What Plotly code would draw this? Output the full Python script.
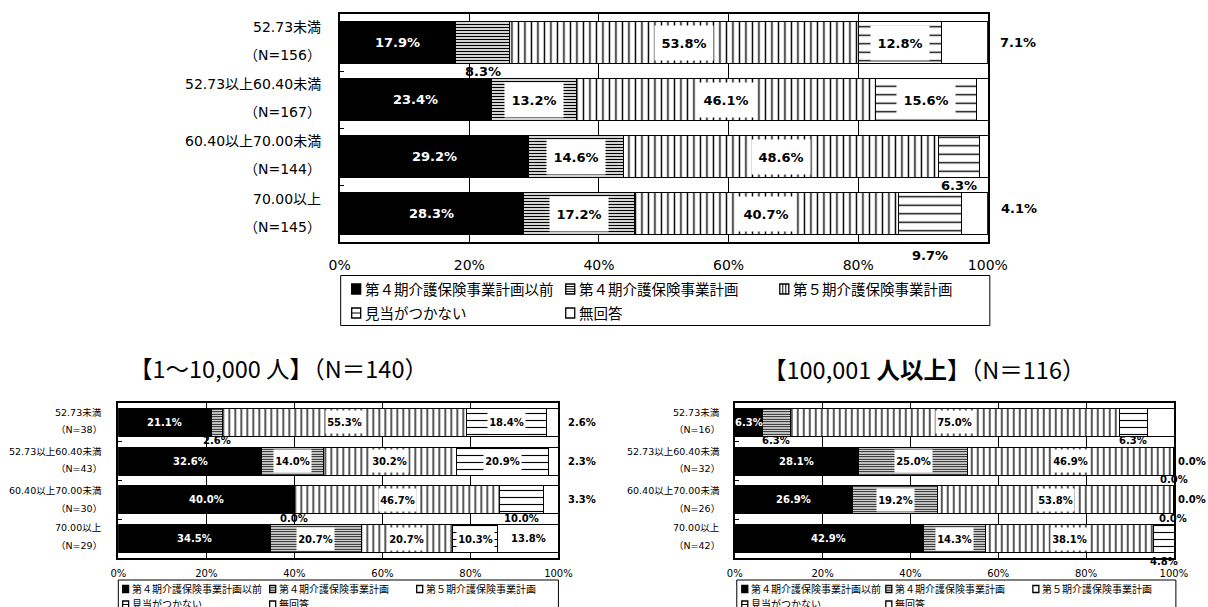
import plotly.graph_objects as go

W, H = 1208, 607

# ---------------------------------------------------------------- data
SERIES = ["第４期介護保険事業計画以前", "第４期介護保険事業計画",
          "第５期介護保険事業計画", "見当がつかない", "無回答"]
ROWS = ["52.73未満", "52.73以上60.40未満", "60.40以上70.00未満", "70.00以上"]
TICK_VALUES = [0, 20, 40, 60, 80, 100]
TICK_TEXT = ["0%", "20%", "40%", "60%", "80%", "100%"]

# 全体
ALL_N = [156, 167, 144, 145]
ALL_VALUES = [
    [17.9, 23.4, 29.2, 28.3],
    [8.3, 13.2, 14.6, 17.2],
    [53.8, 46.1, 48.6, 40.7],
    [12.8, 15.6, 6.3, 9.7],
    [7.1, 1.8, 1.4, 4.1],
]

# 1～10,000人
SMALL_TITLE = "【1～10,000 人】（N＝140）"
SMALL_N = [38, 43, 30, 29]
SMALL_VALUES = [
    [21.1, 32.6, 40.0, 34.5],
    [2.6, 14.0, 0.0, 20.7],
    [55.3, 30.2, 46.7, 20.7],
    [18.4, 20.9, 10.0, 10.3],
    [2.6, 2.3, 3.3, 13.8],
]

# 100,001人以上
LARGE_TITLE = "【100,001 <b>人以上</b>】（N＝116）"
LARGE_N = [16, 32, 26, 42]
LARGE_VALUES = [
    [6.3, 28.1, 26.9, 42.9],
    [6.3, 25.0, 19.2, 14.3],
    [75.0, 46.9, 53.8, 38.1],
    [6.3, 0.0, 0.0, 4.8],
    [6.3, 0.0, 0.0, 0.0],
]

# ---------------------------------------------------------------- label placement
PLACE = {
    "all": [["in", "below", "in", "in", "right"],
            ["in", "in", "in", "in", "right"],
            ["in", "in", "in", "below", "right"],
            ["in", "in", "in", "below", "right"]],
    "small": [["in", "below", "in", "in", "right"],
              ["in", "in", "in", "in", "right"],
              ["in", "below", "in", "below", "right"],
              ["in", "in", "in", "in", "in"]],
    "large": [["in", "below", "in", "below", "right"],
              ["in", "in", "in", "below", "right"],
              ["in", "in", "in", "below", "right"],
              ["in", "in", "in", "below", "right"]],
}
NUDGE = {
    "all": {(3, 3): -13, (3, 4): 5},
    "small": {},
    "large": {(3, 3): -4},
}

# ---------------------------------------------------------------- geometry / style (pixels)
STYLE = {
    "all": dict(x0=340, x1=988, y0=14, y1=242, frame=2, tick_size=14, standoff=9,
                cat_size=14, cat_right=323, cat_half=14, cat_lift=(1.5, 1.5, 1.5, 1),
                lab_size=13, box_w=58, box_h=34,
                right_shift=30, below_gap=7, pat=(3, 6.5, 8.5), sol=(0.45, 0.22, 0.16),
                leg=dict(x0=341, x1=990, y0=275.5, y1=325.5, rows=(288, 312),
                         cols=(352, 566, 780), sym=(9, 10), font=14.5, dx=11, vlines=True)),
    "small": dict(x0=118.7, x1=558.7, y0=403, y1=558, frame=1.5, tick_size=10, standoff=5,
                  cat_size=9.5, cat_right=104, cat_half=8.75, cat_lift=(1.5, 1, 0.5, 2),
                  lab_size=10, box_w=37, box_h=22,
                  right_shift=23, below_gap=3, pat=(2.5, 6, 7), sol=(0.45, 0.22, 0.16),
                  leg=dict(x0=118.7, x1=558.7, y0=580, y1=620, rows=(588, 603.5),
                           cols=(123, 270, 417), sym=(6, 7), font=10, dx=7, vlines=False)),
    "large": dict(x0=735, x1=1174, y0=403, y1=558, frame=1.5, tick_size=10, standoff=5,
                  cat_size=9.5, cat_right=722, cat_half=8.75, cat_lift=(1.5, 1, 0.5, 2),
                  lab_size=10, box_w=37, box_h=22,
                  right_shift=18, below_gap=3, pat=(2.5, 6, 7), sol=(0.45, 0.22, 0.16),
                  leg=dict(x0=737, x1=1176, y0=580, y1=620, rows=(588, 603.5),
                           cols=(742, 886, 1033), sym=(6, 7), font=10, dx=7, vlines=False)),
}
TITLES = {"small": (279, 368, 23.5), "large": (924, 369, 23.5)}
BARGAP = 0.28
NUM_FONT = "DejaVu Sans, Noto Sans CJK JP"
JP_FONT = "Noto Sans CJK JP, DejaVu Sans"

# horizontal placement factor of the drawing surface
XA, XB = 11.4, 0.9741


def fx(x):
    return (x - XA) / XB / W


def fy(y):
    return 1 - y / H


def marker_for(j, st):
    line = dict(color="black", width=1)
    if j == 0:
        return dict(color="black", line=line)
    if j == 4:
        return dict(color="white", line=line)
    shape = "|" if j == 2 else "-"
    return dict(color="white", line=line,
                pattern=dict(shape=shape, size=st["pat"][j - 1], solidity=st["sol"][j - 1],
                             fgcolor="black", bgcolor="white", fillmode="replace"))


panels = [("all", ALL_VALUES, ALL_N), ("small", SMALL_VALUES, SMALL_N),
          ("large", LARGE_VALUES, LARGE_N)]

fig = go.Figure()
annotations = []
shapes = []

for k, (key, values, counts) in enumerate(panels):
    st = STYLE[key]
    suffix = "" if k == 0 else str(k + 1)
    xa, ya = "x" + suffix, "y" + suffix

    for j, name in enumerate(SERIES):
        fig.add_trace(go.Bar(orientation="h", y=ROWS, x=values[j], name=name,
                             xaxis=xa, yaxis=ya, marker=marker_for(j, st),
                             showlegend=False, hoverinfo="skip"))

    fig.layout["xaxis" + suffix] = dict(
        domain=[fx(st["x0"]), fx(st["x1"])], range=[0, 100], anchor=ya,
        tickvals=TICK_VALUES, ticktext=TICK_TEXT, showgrid=True, gridcolor="black",
        gridwidth=1, zeroline=False, showline=True, mirror=True, linecolor="black",
        linewidth=st["frame"], ticks="", ticklabelstandoff=st["standoff"],
        tickfont=dict(family=NUM_FONT, size=st["tick_size"], color="black"), fixedrange=True)
    fig.layout["yaxis" + suffix] = dict(
        domain=[fy(st["y1"]), fy(st["y0"])], anchor=xa, type="category",
        categoryorder="array", categoryarray=ROWS, range=[len(ROWS) - 0.5, -0.5],
        showticklabels=False, showgrid=False, zeroline=False, showline=True, mirror=True,
        linecolor="black", linewidth=st["frame"], ticks="inside", tickson="boundaries",
        ticklen=4, tickcolor="black", fixedrange=True)

    slot = (st["y1"] - st["y0"]) / len(ROWS)
    half = slot * (1 - BARGAP) / 2

    # category labels (two lines)
    for i, row in enumerate(ROWS):
        lift = st["cat_lift"][i]
        for line_text, sgn in ((row, 1), (f"（N={counts[i]}）", -1)):
            annotations.append(dict(
                xref="paper", yref=ya, x=fx(st["cat_right"]), y=row, xanchor="right",
                yanchor="middle", yshift=sgn * st["cat_half"] + lift, showarrow=False,
                text=line_text, font=dict(family=NUM_FONT, size=st["cat_size"], color="black")))

    # value labels
    for i, row in enumerate(ROWS):
        c = 0.0
        for j in range(len(SERIES)):
            v = values[j][i]
            mode = PLACE[key][i][j]
            text = f"<b>{v:.1f}%</b>"
            font = dict(family=NUM_FONT, size=st["lab_size"], color="black")
            nud = NUDGE[key].get((i, j), 0)
            if mode == "in":
                ann = dict(xref=xa, yref=ya, x=c + v / 2, y=row, showarrow=False,
                           text=text, font=font, yshift=nud)
                if j == 0:
                    ann["font"] = dict(font, color="white")
                elif j in (1, 2, 3):
                    ann.update(bgcolor="white", width=st["box_w"], height=st["box_h"],
                               borderpad=0, valign="middle")
                annotations.append(ann)
            elif mode == "below":
                annotations.append(dict(
                    xref=xa, yref=ya, x=c + v / 2, y=row, showarrow=False, text=text,
                    font=font, yanchor="top",
                    yshift=-(half + st["below_gap"] - st["lab_size"] * 0.6) + nud))
            elif mode == "right":
                annotations.append(dict(
                    xref=xa, yref=ya, x=c + v, y=row, showarrow=False, text=text,
                    font=font, xshift=st["right_shift"] / XB, yshift=nud))
            c += v

    # legend box
    lg = st["leg"]
    shapes.append(dict(type="rect", xref="paper", yref="paper",
                       x0=fx(lg["x0"]), x1=fx(lg["x1"]), y0=fy(lg["y1"]), y1=fy(lg["y0"]),
                       line=dict(color="black", width=1), fillcolor="rgba(0,0,0,0)"))
    sw, sh = lg["sym"]
    for idx, name in enumerate(SERIES):
        cx = lg["cols"][idx % 3]
        cy = lg["rows"][idx // 3]
        x0, x1, y0, y1 = cx, cx + sw, cy - sh / 2 + 1, cy + sh / 2 + 1
        shapes.append(dict(type="rect", xref="paper", yref="paper",
                           x0=fx(x0), x1=fx(x1), y0=fy(y1), y1=fy(y0),
                           line=dict(color="black", width=1.3),
                           fillcolor="black" if idx == 0 else "white"))
        inner = []
        if idx == 1:
            n = 3 if lg["vlines"] else 2
            inner = [("h", y0 + (y1 - y0) * (m + 1) / (n + 1)) for m in range(n)]
        elif idx == 2 and lg["vlines"]:
            inner = [("v", x0 + (x1 - x0) * (m + 1) / 3) for m in range(2)]
        elif idx == 3:
            inner = [("h", (y0 + y1) / 2)]
        for kind, pos in inner:
            if kind == "h":
                shapes.append(dict(type="line", xref="paper", yref="paper",
                                   x0=fx(x0), x1=fx(x1), y0=fy(pos), y1=fy(pos),
                                   line=dict(color="black", width=1)))
            else:
                shapes.append(dict(type="line", xref="paper", yref="paper",
                                   x0=fx(pos), x1=fx(pos), y0=fy(y0), y1=fy(y1),
                                   line=dict(color="black", width=1)))
        annotations.append(dict(
            xref="paper", yref="paper", x=fx(cx + lg["dx"]), y=fy(cy), xanchor="left",
            yanchor="middle", showarrow=False, text=name,
            font=dict(family=JP_FONT, size=lg["font"], color="black")))

# panel titles
for key, title in (("small", SMALL_TITLE), ("large", LARGE_TITLE)):
    tx, ty, ts = TITLES[key]
    annotations.append(dict(xref="paper", yref="paper", x=fx(tx), y=fy(ty),
                            xanchor="center", yanchor="middle", showarrow=False,
                            text=title, font=dict(family=JP_FONT, size=ts, color="black")))

fig.update_layout(
    width=W, height=H, margin=dict(l=0, r=0, t=0, b=0),
    paper_bgcolor="white", plot_bgcolor="white",
    barmode="stack", bargap=BARGAP, showlegend=False,
    annotations=annotations, shapes=shapes,
)

fig.write_html("out.html")
